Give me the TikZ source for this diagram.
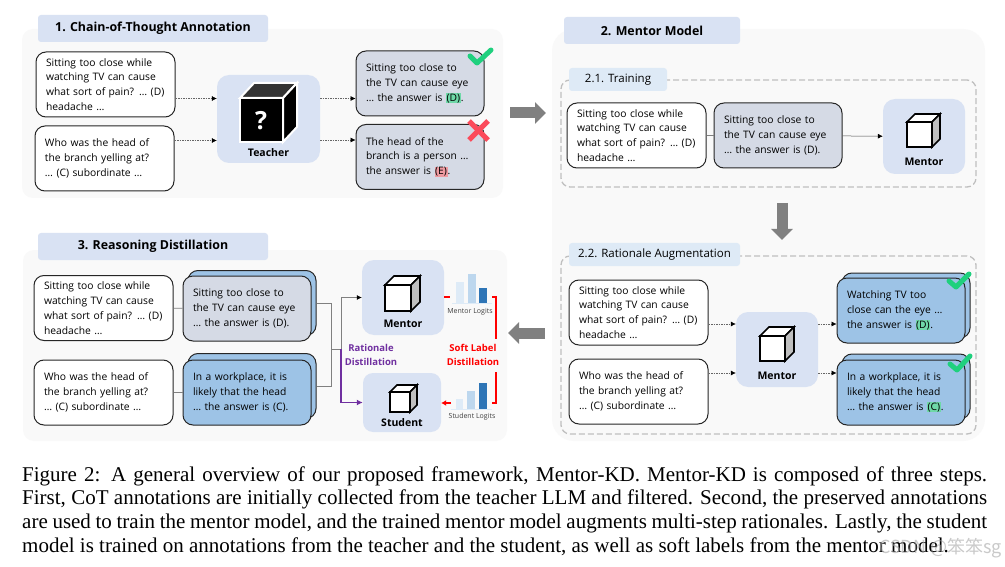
\documentclass[tikz,border=0pt]{standalone}
\usepackage{fontspec}
\setmainfont{Liberation Serif}
\newfontfamily\boxfont{Open Sans}
\newfontfamily\cjkfont{Noto Sans CJK SC}
\usetikzlibrary{arrows.meta}
\definecolor{paneback}{HTML}{F9F9F9}
\definecolor{titleblue}{HTML}{D9E2F3}
\definecolor{sublabel}{HTML}{DEEAF6}
\definecolor{tileblue}{HTML}{D9E2F3}
\definecolor{grayans}{HTML}{D5DAE5}
\definecolor{blueans}{HTML}{9DC3E6}
\definecolor{okgreen}{HTML}{1FD07E}
\definecolor{badred}{HTML}{FB4B5B}
\definecolor{hlgreen}{HTML}{6FD8A8}
\definecolor{hlred}{HTML}{EE9AA0}
\definecolor{ratpurple}{HTML}{7030A0}
\definecolor{barone}{HTML}{DEEBF7}
\definecolor{bartwo}{HTML}{BDD7EE}
\definecolor{barthree}{HTML}{2E75B6}
\newcommand{\hlans}[2]{{\setlength{\fboxsep}{0.6pt}\colorbox{#1}{#2}}}
\tikzset{
panel/.style={fill=paneback, rounded corners=11pt, inner sep=0pt},
titlebox/.style={fill=titleblue, rounded corners=3pt, inner sep=0pt, font=\boxfont\fontsize{12.4}{14}\selectfont\bfseries},
subbox/.style={fill=sublabel, rounded corners=3pt, inner sep=0pt, font=\boxfont\fontsize{11.5}{14}\selectfont},
dashbox/.style={draw=black!25, dash pattern=on 6pt off 3pt, line width=1.3pt, rounded corners=9pt, inner sep=0pt},
qbox/.style={draw=black!85, fill=white, line width=1pt, rounded corners=10pt, minimum width=139pt, minimum height=65pt, inner sep=0pt, text width=119pt, align=left, font=\boxfont\fontsize{10.3}{14.8}\selectfont},
ansbox/.style={draw=black!85, line width=1pt, rounded corners=10pt, minimum width=128pt, minimum height=65pt, inner sep=0pt, text width=108pt, align=left, font=\boxfont\fontsize{10.3}{14.8}\selectfont},
tile/.style={fill=tileblue, rounded corners=12pt, inner sep=0pt},
tiletext/.style={inner sep=0pt, font=\boxfont\fontsize{10.5}{13}\selectfont\bfseries},
smalltext/.style={inner sep=0pt, text=black!75, font=\boxfont\fontsize{7}{9}\selectfont},
flow/.style={dash pattern=on 1.5pt off 1pt, draw=black!60, line width=0.5pt, -{Latex[length=5pt,width=5pt,black]}},
plainline/.style={draw=black!50, line width=0.7pt},
softline/.style={draw=red, line width=1.6pt},
bigarrow/.style={draw=black!50, line width=11pt, -{Triangle[length=11pt,width=21pt]}},
capline/.style={anchor=west, inner sep=0pt, font=\fontsize{21}{24}\selectfont},
pics/cubeicon/.style n args={3}{code={
\draw[line width=#3, fill=white, line join=miter] (0,0) -- (#2,-#2) -- (#1+#2,-#2) -- (#1,0) -- cycle;
\draw[line width=#3, fill=black!25, line join=miter] (#1,0) -- (#1+#2,-#2) -- (#1+#2,#1-#2) -- (#1,#1) -- cycle;
\draw[line width=#3, fill=white, line join=miter] (0,0) rectangle (#1,#1);
}},
}
\begin{document}
\begin{tikzpicture}[x=1pt,y=-1pt]
\useasboundingbox[fill=white] (0,0) rectangle (1005,567);
\node[panel, minimum width=481pt, minimum height=169pt] (paneone) at (262.5,113.5){};
\node[titlebox, minimum width=230pt, minimum height=27pt] (titleone) at (153,28.5){1. Chain-of-Thought Annotation};
\node[panel, rounded corners=22pt, minimum width=433pt, minimum height=412pt] (panetwo) at (768.5,235){};
\node[titlebox, minimum width=176pt, minimum height=27pt] (titletwo) at (652,30.5){2. Mentor Model};
\node[panel, minimum width=484pt, minimum height=191pt] (panethree) at (265,345.5){};
\node[titlebox, minimum width=230pt, minimum height=27pt] (titlethree) at (153,246.5){3. Reasoning Distillation};
\node[dashbox, minimum width=415pt, minimum height=107pt] (dashtrain) at (768.5,133.5){};
\node[subbox, minimum width=98pt, minimum height=23pt] (labeltrain) at (618,79.5){2.1. Training};
\node[dashbox, minimum width=415pt, minimum height=178pt] (dashaug) at (768.5,345){};
\node[subbox, minimum width=171pt, minimum height=23pt] (labelaug) at (654.5,254.5){2.2. Rationale Augmentation};
\node[qbox] (qa0) at (105.5,84.5){Sitting too close while\\watching TV can cause\\\mbox{what sort of pain? … (D)}\\headache …};
\node[qbox] (qa1) at (104.5,158.5){Who was the head of\\the branch yelling at?\\… (C) subordinate …};
\node[tile, minimum width=103pt, minimum height=88pt] (teacher) at (268.5,119){};
\draw[white, line width=2pt, fill=black, line join=miter] (240,98) rectangle (283,142);
\draw[white, line width=2pt, fill=black!80, line join=miter] (240,98) -- (254,83) -- (297,83) -- (283,98) -- cycle;
\draw[white, line width=2pt, fill=black, line join=miter] (283,98) -- (297,83) -- (297,127) -- (283,142) -- cycle;
\node[inner sep=0pt, text=white, font=\boxfont\fontsize{25}{25}\selectfont\bfseries] (qmark) at (261,121){?};
\node[tiletext] (teacherlabel) at (268.5,153){Teacher};
\node[ansbox, fill=grayans] (aa0) at (420,83.5){Sitting too close to\\the TV can cause eye\\… the answer is \hlans{hlgreen}{(D)}.};
\node[ansbox, fill=grayans] (aa1) at (420,157){The head of the\\branch is a person …\\the answer is \hlans{hlred}{(E)}.};
\draw[flow] ([yshift=-14pt]qa0.east) -- ([yshift=-14pt]qa0.east -| teacher.west);
\draw[flow] ([yshift=18pt]qa1.east) -- ([yshift=18pt]qa1.east -| teacher.west);
\draw[flow] (teacher.east |- 0,98.5) -- (aa0.west |- 0,98.5);
\draw[flow] (teacher.east |- 0,140) -- (aa1.west |- 0,140);
\draw[okgreen, line width=5pt, line cap=round, line join=round] (470,56) -- (477,63) -- (491,50);
\draw[badred, line width=5pt] (469,121) -- (488,140);
\draw[badred, line width=5pt] (488,121) -- (469,140);
\node[qbox] (qb0) at (636.5,135.5){Sitting too close while\\watching TV can cause\\\mbox{what sort of pain? … (D)}\\headache …};
\node[ansbox, fill=grayans] (ab0) at (778,135.5){Sitting too close to\\the TV can cause eye\\… the answer is (D).};
\node[tile, minimum width=82pt, minimum height=75pt] (mentorb) at (924,136.5){};
\pic at (907,122) {cubeicon={25}{8}{1.6pt}};
\node[tiletext] (mentorblabel) at (924,162){Mentor};
\draw[plainline] (qb0) -- (ab0);
\draw[draw=black!70, line width=0.5pt, -{Latex[length=5pt,width=5pt,black]}] (ab0) -- (mentorb);
\coordinate (downa) at (782,203);
\coordinate (downb) at (782,240);
\draw[bigarrow] (downa) -- (downb);
\coordinate (righta) at (510,113);
\coordinate (rightb) at (546,113);
\draw[bigarrow] (righta) -- (rightb);
\coordinate (lefta) at (545,333);
\coordinate (leftb) at (508,333);
\draw[bigarrow] (lefta) -- (leftb);
\node[qbox] (qc0) at (638.5,312.5){Sitting too close while\\watching TV can cause\\\mbox{what sort of pain? … (D)}\\headache …};
\node[qbox] (qc1) at (638.5,391.5){Who was the head of\\the branch yelling at?\\… (C) subordinate …};
\node[tile, minimum width=82pt, minimum height=75pt] (mentorc) at (777,349.5){};
\pic at (760,336) {cubeicon={25}{9}{1.6pt}};
\node[tiletext] (mentorclabel) at (777,376){Mentor};
\node[ansbox, fill=blueans] (bc0) at (906,305.5){};
\node[ansbox, fill=blueans] (ac0) at (901,310.5){Watching TV too\\close can the eye …\\the answer is \hlans{hlgreen}{(D)}.};
\node[ansbox, fill=blueans] (bc1) at (906,386.5){};
\node[ansbox, fill=blueans] (ac1) at (901,392.5){In a workplace, it is\\likely that the head\\… the answer is \hlans{hlgreen}{(C)}.};
\draw[flow] (qc0.east |- 0,324) -- (mentorc.west |- 0,324);
\draw[flow] (qc1.east |- 0,373) -- (mentorc.west |- 0,373);
\draw[flow] (mentorc.east |- 0,324) -- (ac0.west |- 0,324);
\draw[flow] (mentorc.east |- 0,373) -- (ac1.west |- 0,373);
\draw[okgreen, line width=5pt, line cap=round, line join=round] (949,281) -- (956,287) -- (969,274);
\draw[okgreen, line width=5pt, line cap=round, line join=round] (950,364) -- (957,370) -- (970,356);
\node[qbox] (qd0) at (103.5,308){Sitting too close while\\watching TV can cause\\\mbox{what sort of pain? … (D)}\\headache …};
\node[qbox] (qd1) at (103.5,392.5){Who was the head of\\the branch yelling at?\\… (C) subordinate …};
\node[ansbox, fill=blueans] (bd0) at (252,303){};
\node[ansbox, fill=grayans] (ad0) at (247,308.5){Sitting too close to\\the TV can cause eye\\… the answer is (D).};
\node[ansbox, fill=blueans] (bd1) at (252,386){};
\node[ansbox, fill=blueans] (ad1) at (247,392.5){In a workplace, it is\\likely that the head\\… the answer is (C).};
\draw[plainline] (qd0) -- (ad0);
\draw[plainline] (qd1) -- (ad1);
\node[tile, minimum width=82pt, minimum height=75pt] (mentord) at (403,297.5){};
\pic at (385,285) {cubeicon={26}{9}{1.6pt}};
\node[tiletext] (mentordlabel) at (403,324){Mentor};
\node[tile, rounded corners=10pt, minimum width=78pt, minimum height=59pt] (studentd) at (402,402.5){};
\pic at (390,392) {cubeicon={20}{7}{1.6pt}};
\node[tiletext] (studentdlabel) at (402,422.5){Student};
\coordinate (mergept) at (331,349);
\coordinate (splitpt) at (341,349);
\draw[plainline] (bd0.east) -| (mergept);
\draw[plainline] (bd1.east) -| (mergept);
\draw[plainline] (mergept) -- (splitpt);
\draw[plainline, -{Latex[length=5pt,width=5pt,black]}] (splitpt) |- (mentord.west);
\draw[ratpurple, line width=1.4pt, -{Latex[length=6pt,width=6pt]}] (splitpt) |- (studentd.west);
\node[inner sep=0pt, align=center, text=ratpurple, font=\boxfont\fontsize{9.5}{13.5}\selectfont\bfseries] (ratlabel) at (371,355){Rationale\\Distillation};
\node[inner sep=0pt, align=center, text=red, font=\boxfont\fontsize{9.5}{13.5}\selectfont\bfseries] (softlabel) at (473,355){Soft Label\\Distillation};
\fill[barone] (456,282) rectangle (464,303);
\fill[bartwo] (468,274) rectangle (476,303);
\fill[barthree] (479,288) rectangle (487,303);
\draw[barone, line width=0.6pt] (452,303) -- (492,303);
\node[smalltext] (mentorlogits) at (470,311.5){Mentor Logits};
\fill[barone] (456,399) rectangle (463,409);
\fill[bartwo] (467,391) rectangle (475,409);
\fill[barthree] (479,383) rectangle (487,409);
\draw[barone, line width=0.6pt] (451,409) -- (492,409);
\node[smalltext] (studentlogits) at (472,417){Student Logits};
\coordinate (softa) at (444,297);
\coordinate (softb) at (450,297);
\coordinate (softc) at (492,297);
\coordinate (softd) at (496,339);
\coordinate (softe) at (496,372);
\coordinate (softf) at (492,403);
\coordinate (softg) at (451,403);
\draw[softline] (softa) -- (softb);
\draw[softline] (softc) -| (softd);
\draw[softline] (softe) |- (softf);
\draw[softline, -{Latex[length=5pt,width=6pt]}] (softg) -- (studentd.east |- softg);
\node[capline] (capa) at (22,476){\makebox[965pt][s]{Figure 2: A general overview of our proposed framework, Mentor-KD. Mentor-KD is composed of three steps.}};
\node[capline] (capb) at (22,499){\makebox[965pt][s]{First, CoT annotations are initially collected from the teacher LLM and filtered. Second, the preserved annotations}};
\node[capline] (capc) at (22,523){\makebox[965pt][s]{are used to train the mentor model, and the trained mentor model augments multi-step rationales. Lastly, the student}};
\node[capline] (capd) at (22,547){model is trained on annotations from the teacher and the student, as well as soft labels from the mentor model.};
\node[inner sep=0pt, anchor=east, text=black!35, opacity=0.6, font=\cjkfont\fontsize{18}{20}\selectfont] (mark) at (1002,548){CSDN @笨笨sg};
\end{tikzpicture}
\end{document}
